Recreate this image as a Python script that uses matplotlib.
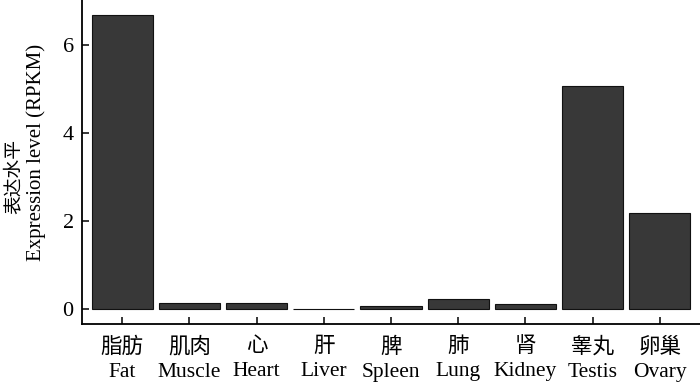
import matplotlib
matplotlib.use("Agg")
import matplotlib.pyplot as plt

categories_cn = ["脂肪", "肌肉", "心", "肝", "脾", "肺", "肾", "睾丸", "卵巢"]
categories_en = ["Fat", "Muscle", "Heart", "Liver", "Spleen", "Lung", "Kidney", "Testis", "Ovary"]
values = [6.66, 0.15, 0.15, 0.02, 0.075, 0.23, 0.13, 5.07, 2.19]
yticks = [0, 2, 4, 6]

fam = ["Liberation Serif", "Noto Sans CJK SC"]
plt.rcParams["font.family"] = fam

fig = plt.figure(figsize=(7.0, 3.83), dpi=100)
ax = fig.add_axes([82/700, 1 - 324/383, 1 - 82/700, 324/383])

x = list(range(len(values)))
ax.bar(x, values, width=0.91, color="#383838", edgecolor="#111111", linewidth=0.8)

ax.set_xlim(-0.6, len(values) - 0.4)
ax.set_ylim(-0.33, 7.01)
ax.set_yticks(yticks)
ax.set_yticklabels([str(v) for v in yticks], fontsize=16)
ax.set_xticks(x)
ax.set_xticklabels([f"{c}\n{e}" for c, e in zip(categories_cn, categories_en)],
                   fontsize=15.5, linespacing=1.38)

for s in ["top", "right"]:
    ax.spines[s].set_visible(False)
for s in ["left", "bottom"]:
    ax.spines[s].set_linewidth(1.3)
ax.tick_params(axis="both", direction="in", length=5, width=1.1, color="black")
ax.tick_params(axis="x", pad=9.5)
ax.tick_params(axis="y", pad=6)

fig.text(14/700, 1 - 176/383, "表达水平", rotation=90, ha="center", va="center",
         fontsize=13.5, family=fam)
fig.text(36/700, 1 - 152/383, "Expression level (RPKM)", rotation=90, ha="center", va="center",
         fontsize=15, family=fam)

fig.savefig("out.png", dpi=100)
